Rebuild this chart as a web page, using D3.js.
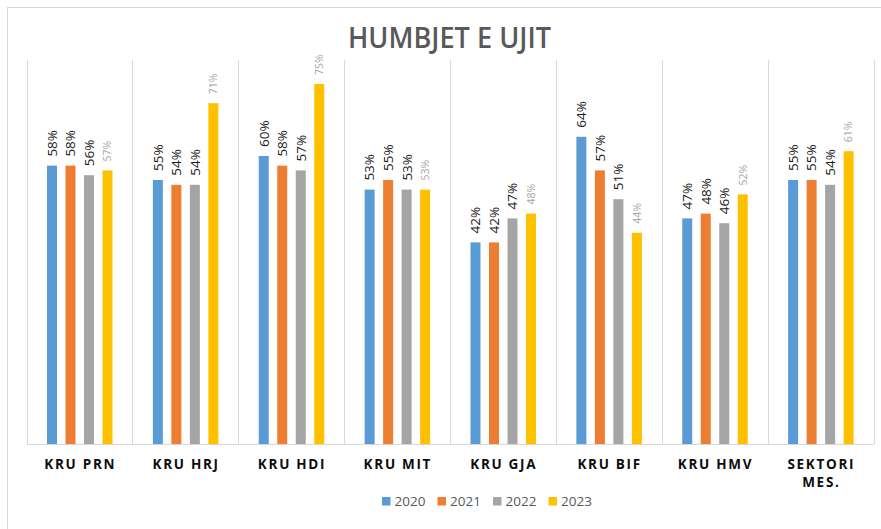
<!DOCTYPE html>
<html>
<head>
<meta charset="utf-8">
<script src="https://cdn.jsdelivr.net/npm/d3@7"></script>
<style>
  html, body { margin: 0; padding: 0; background: #fff; }
  svg { display: block; }
</style>
</head>
<body>
<svg id="chart" width="881" height="529"></svg>
<script>
const categories = ["KRU PRN", "KRU HRJ", "KRU HDI", "KRU MIT", "KRU GJA", "KRU BIF", "KRU HMV", "SEKTORI MES."];
const years = ["2020", "2021", "2022", "2023"];
const values2020 = [0.58, 0.55, 0.60, 0.53, 0.42, 0.64, 0.47, 0.55];
const values2021 = [0.58, 0.54, 0.58, 0.55, 0.42, 0.57, 0.48, 0.55];
const values2022 = [0.56, 0.54, 0.57, 0.53, 0.47, 0.51, 0.46, 0.54];
const values2023 = [0.57, 0.71, 0.75, 0.53, 0.48, 0.44, 0.52, 0.61];
const seriesValues = [values2020, values2021, values2022, values2023];
const colors = ["#5b9bd5", "#ed7d31", "#a5a5a5", "#ffc000"];
const labelColors = ["#1a1a1a", "#1a1a1a", "#1a1a1a", "#a6a6a6"];
const title = "HUMBJET E UJIT";

const svg = d3.select("#chart");
const plot = { left: 26.5, right: 873.5, top: 60, bottom: 444 };

// outer border
svg.append("rect").attr("x", 7.5).attr("y", 7.5).attr("width", 900).attr("height", 540)
  .attr("fill", "none").attr("stroke", "#d9d9d9").attr("stroke-width", 1);

// title
svg.append("text").attr("x", 449.5).attr("y", 48).attr("text-anchor", "middle")
  .attr("font-family", "'Open Sans', sans-serif").attr("font-weight", 600).attr("font-size", 28)
  .attr("fill", "#595959").attr("textLength", 203).attr("lengthAdjust", "spacingAndGlyphs")
  .text(title);

const x0 = d3.scaleBand().domain(categories).range([plot.left, plot.right]).padding(0);
const x1 = d3.scaleBand().domain(years).range([20.5, 86]).paddingInner(0.46).paddingOuter(0);
const y = d3.scaleLinear().domain([0, 0.8]).range([plot.bottom, plot.top]);

// vertical gridlines at category boundaries
const bounds = categories.map(c => x0(c)).concat([plot.right]);
svg.append("g").selectAll("line").data(bounds).join("line")
  .attr("x1", d => Math.round(d) + 0.5).attr("x2", d => Math.round(d) + 0.5)
  .attr("y1", plot.top).attr("y2", plot.bottom)
  .attr("stroke", "#d9d9d9").attr("stroke-width", 1);

// bars
const rows = [];
categories.forEach((c, i) => {
  years.forEach((yr, j) => rows.push({ cat: c, year: yr, j, v: seriesValues[j][i] }));
});

const g = svg.append("g");
g.selectAll("rect").data(rows).join("rect")
  .attr("x", d => x0(d.cat) + x1(d.year))
  .attr("width", x1.bandwidth())
  .attr("y", d => y(d.v))
  .attr("height", d => y(0) - y(d.v))
  .attr("fill", d => colors[d.j]);

// value labels (rotated)
g.selectAll("text").data(rows).join("text")
  .attr("transform", d => {
    const cx = x0(d.cat) + x1(d.year) + x1.bandwidth() / 2;
    const ty = y(d.v) - 9;
    return `translate(${cx},${ty}) rotate(-90)`;
  })
  .attr("dy", "0.36em")
  .attr("text-anchor", "start")
  .attr("font-family", "'Open Sans', sans-serif")
  .attr("font-size", d => d.j === 3 ? 10.5 : 13.5)
  .attr("fill", d => labelColors[d.j])
  .text(d => Math.round(d.v * 100) + "%");

// baseline
svg.append("line").attr("x1", plot.left).attr("x2", plot.right)
  .attr("y1", plot.bottom + 0.5).attr("y2", plot.bottom + 0.5)
  .attr("stroke", "#d9d9d9").attr("stroke-width", 1);

// category axis
const axis = svg.append("g").attr("transform", `translate(0,${plot.bottom})`)
  .call(d3.axisBottom(x0).tickSize(0).tickSizeOuter(0));
axis.select(".domain").remove();
axis.selectAll(".tick text").each(function(d) {
  const t = d3.select(this);
  t.text(null).attr("y", 0).attr("dy", null)
    .attr("font-family", "'Open Sans', sans-serif").attr("font-weight", 700)
    .attr("font-size", 13.5).attr("fill", "#0d0d0d").attr("letter-spacing", "1.7px");
  const words = d === "SEKTORI MES." ? ["SEKTORI", "MES."] : [d];
  words.forEach((w, k) => {
    t.append("tspan").attr("x", 0.8).attr("y", 25 + k * 18).text(w);
  });
});

// legend
const legend = svg.append("g").attr("transform", "translate(382,0)");
const items = legend.selectAll("g").data(years).join("g")
  .attr("transform", (d, i) => `translate(${i * 55.5},0)`);
items.append("rect").attr("x", 0).attr("y", 497).attr("width", 8.5).attr("height", 8.5)
  .attr("fill", (d, i) => colors[i]);
items.append("text").attr("x", 12.5).attr("y", 506)
  .attr("font-family", "'Open Sans', sans-serif").attr("font-size", 13.5).attr("fill", "#595959")
  .text(d => d);
</script>
</body>
</html>
